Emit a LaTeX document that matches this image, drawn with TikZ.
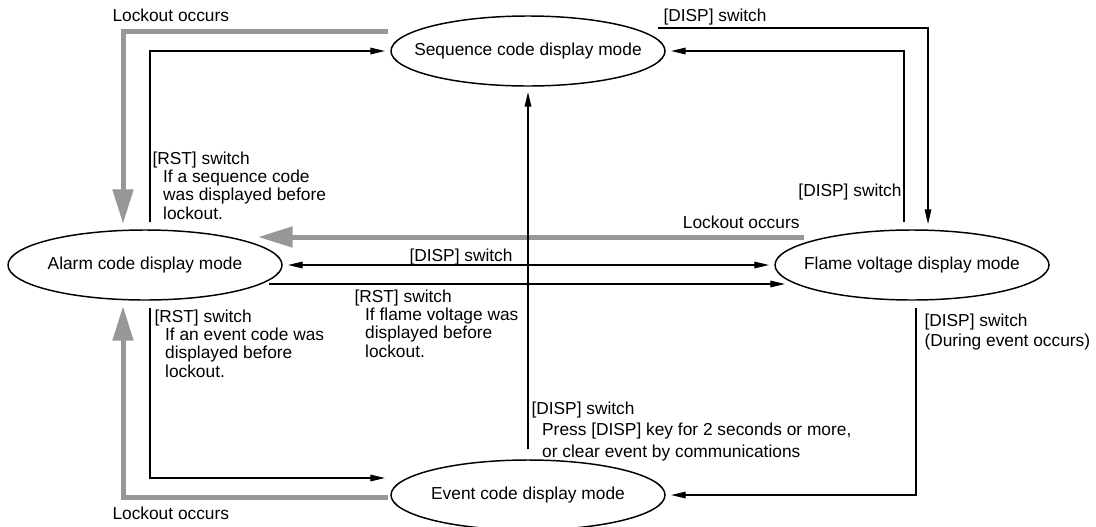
\documentclass[tikz,border=0pt]{standalone}
\usepackage{fontspec}
\setmainfont{Liberation Sans}
\usetikzlibrary{arrows.meta,calc,shapes.geometric}

\definecolor{lockgray}{RGB}{151,151,153}
\newcommand{\ind}{\hspace*{8pt}}

\tikzset{every picture/.style={line width=0.75pt}}
\tikzset{
	mode/.style={draw, ellipse, line width=1.1pt, minimum width=205.5pt, minimum height=52.5pt, inner sep=0pt, font=\fontsize{13}{14}\selectfont},
	flow/.style={line width=0.9pt, -{Triangle[length=11pt,width=5pt]}, shorten >=4pt},
	lockout/.style={draw=lockgray, line width=3.75pt, -{Triangle[length=26pt,width=15pt]}, shorten >=4pt},
	lbl/.style={inner sep=0pt, align=left, font=\fontsize{13}{13.7}\selectfont}
}

\begin{document}
\begin{tikzpicture}[x=0.75pt,y=0.75pt,yscale=-1,xscale=1]
	\useasboundingbox (0,0) rectangle (1096,526);

	%Shape: Ellipse
	\node[mode] (seq) at (528,51) {\makebox[0pt]{Sequence code display mode}};
	%Shape: Ellipse
	\node[mode] (alarm) at (145,265) {\makebox[0pt]{Alarm code display mode}};
	%Shape: Ellipse
	\node[mode] (flame) at (912,265) {\makebox[0pt]{Flame voltage display mode}};
	%Shape: Ellipse
	\node[mode] (event) at (528,495) {\makebox[0pt]{Event code display mode}};

	%Lockout lines
	\draw[lockout] ($(seq.west)+(-2,-20)$) -| (alarm.north -| 123,0);
	\draw[lockout] ($(flame.west)+(30,-28)$) -- ($(alarm.east)+(-30,-28)$);
	\draw[lockout] ($(event.west)+(-2,2)$) -| (alarm.south -| 123,0);

	%Straight Lines
	\draw[flow] ($(alarm.north)+(5,-7)$) |- (seq.west);
	\draw[flow] ($(seq.east)+(-8,-23)$) -| (flame.north -| 928,0);
	\draw[flow] ($(flame.north)+(-8,-7)$) |- (seq.east);
	\draw[flow, {Triangle[length=11pt,width=5pt]}-{Triangle[length=11pt,width=5pt]}, shorten <=4pt] (alarm.east) -- (flame.west);
	\draw[flow] ($(alarm.east)+(-14,19)$) -- ($(flame.west)+(16,19)$);
	\draw[flow] ($(event.north)+(0,-10)$) -- (seq.south);
	\draw[flow] ($(alarm.south)+(5,7)$) |- ($(event.west)+(0,-17)$);
	\draw[flow] ($(flame.south)+(4,7)$) |- (event.east);

	% Text Node (base = last line)
	\node[lbl, anchor=base west] (lockseq) at (112,21) {Lockout occurs};
	% Text Node
	\node[lbl, anchor=base west] (rstseq) at (152,219) {[RST] switch\\\ind If a sequence code\\\ind was displayed before\\\ind lockout.};
	% Text Node
	\node[lbl, anchor=base west] (dispseq) at (663,21) {[DISP] switch};
	% Text Node
	\node[lbl, anchor=base east] (dispflame) at (902,196) {[DISP] switch};
	% Text Node
	\node[lbl, anchor=base east] (lockflame) at (800,228) {Lockout occurs};
	% Text Node
	\node[lbl, anchor=base west] (dispalarm) at (409,261) {[DISP] switch};
	% Text Node
	\node[lbl, anchor=base west] (rstflame) at (354,357) {[RST] switch\\\ind If flame voltage was\\\ind displayed before\\\ind lockout.};
	% Text Node
	\node[lbl, anchor=base west] (rstevent) at (154,377) {[RST] switch\\\ind If an event code was\\\ind displayed before\\\ind lockout.};
	% Text Node
	\node[lbl, anchor=base west, font=\fontsize{13}{15}\selectfont] (dispevent) at (924,346) {[DISP] switch\\(During event occurs)};
	% Text Node
	\node[lbl, anchor=base west, font=\fontsize{13}{16}\selectfont] (clearevent) at (531,457) {[DISP] switch\\\ind Press [DISP] key for 2 seconds or more,\\\ind or clear event by communications};
	% Text Node
	\node[lbl, anchor=base west] (lockevent) at (112,519) {Lockout occurs};

\end{tikzpicture}
\end{document}
